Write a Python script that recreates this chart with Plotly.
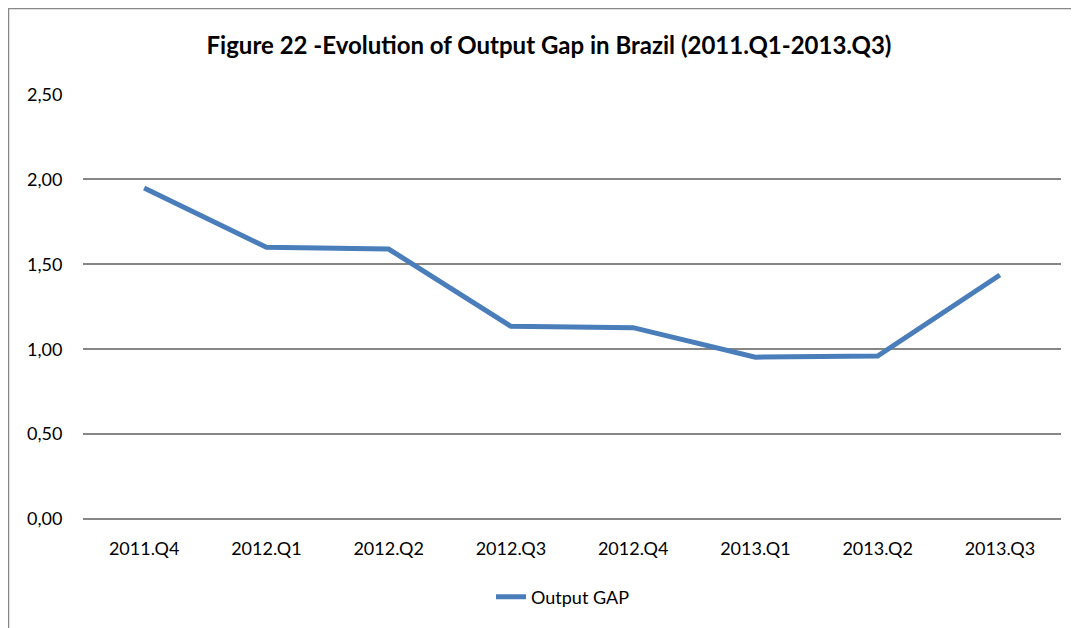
import plotly.graph_objects as go

categories = ["2011.Q4", "2012.Q1", "2012.Q2", "2012.Q3", "2012.Q4", "2013.Q1", "2013.Q2", "2013.Q3"]
output_gap = [1.95, 1.60, 1.59, 1.135, 1.127, 0.953, 0.960, 1.437]
y_ticks = [0.0, 0.5, 1.0, 1.5, 2.0, 2.5]

# page body has an 8px margin, so figure coordinates are shifted by 8px
OFF = 8
W, H = 1079 - OFF, 628 - OFF
L, R, T, B = 83 - OFF, 1061 - OFF, 94 - OFF, 519 - OFF
pw, ph = R - L, B - T

def px_x(x):
    return (x - OFF - L) / pw

def px_y(y):
    return (B - (y - OFF)) / ph

font_family = "Lato, 'Open Sans', sans-serif"

fig = go.Figure()
fig.add_trace(go.Scatter(
    x=categories, y=output_gap, mode="lines", name="Output GAP",
    line=dict(color="#4A7EBB", width=5),
))

fig.update_layout(
    width=W, height=H,
    margin=dict(l=L, r=W - R, t=T, b=H - B, pad=0),
    paper_bgcolor="white", plot_bgcolor="white",
    separators=", ",
    font=dict(family=font_family, size=18, color="black"),
    title=dict(
        text="<b>Figure 22 -Evolution of Output Gap in Brazil (2011.Q1-2013.Q3)</b>",
        x=px_x(549), xref="paper", xanchor="center",
        y=1 - (46 - OFF) / H, yref="container", yanchor="middle",
        font=dict(size=24, family=font_family, color="black"),
    ),
    showlegend=True,
    legend=dict(
        orientation="h", x=px_x(563), xanchor="center",
        y=px_y(597), yanchor="middle",
        font=dict(size=18), bgcolor="rgba(0,0,0,0)",
    ),
    xaxis=dict(
        type="category", range=[-0.5, len(categories) - 0.5],
        showgrid=False, showline=False, zeroline=False,
        ticks="outside", ticklen=13, tickcolor="rgba(0,0,0,0)",
        tickfont=dict(size=18),
    ),
    yaxis=dict(
        range=[0, 2.503], tickvals=y_ticks, tickformat=".2f",
        showgrid=True, gridcolor="#868686", gridwidth=1.6,
        zeroline=True, zerolinecolor="#868686", zerolinewidth=1.6,
        showline=False,
        ticks="outside", ticklen=16, tickcolor="rgba(0,0,0,0)",
        tickfont=dict(size=18),
    ),
    shapes=[
        dict(type="rect", xref="paper", yref="paper",
             x0=px_x(8.5), x1=px_x(1100), y0=px_y(700), y1=px_y(8.5),
             line=dict(color="#888888", width=1.5), fillcolor="rgba(0,0,0,0)",
             layer="below"),
    ],
)

fig.write_html("out.html")
